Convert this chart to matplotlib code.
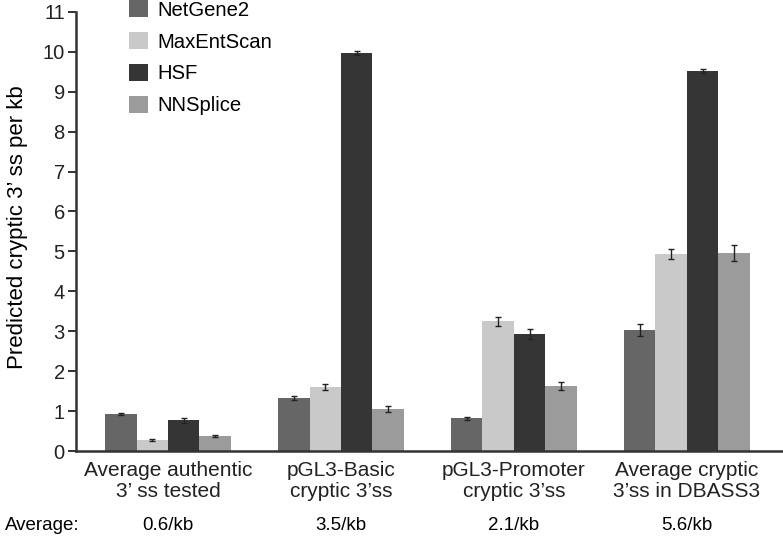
import matplotlib
matplotlib.use("Agg")
import matplotlib.pyplot as plt
import numpy as np
from matplotlib.patches import Patch

plt.rcParams['font.family'] = ['Liberation Sans', 'DejaVu Sans']

categories = ["Average authentic\n3\u2019 ss tested", "pGL3-Basic\ncryptic 3\u2019ss",
              "pGL3-Promoter\ncryptic 3\u2019ss", "Average cryptic\n3\u2019ss in DBASS3"]
averages = ["0.6/kb", "3.5/kb", "2.1/kb", "5.6/kb"]
series = ["NetGene2", "MaxEntScan", "HSF", "NNSplice"]
netgene2 = [0.93, 1.33, 0.82, 3.03]
maxentscan = [0.27, 1.60, 3.25, 4.93]
hsf = [0.77, 9.97, 2.93, 9.53]
nnsplice = [0.38, 1.05, 1.64, 4.97]
netgene2_err = [0.03, 0.05, 0.04, 0.15]
maxentscan_err = [0.03, 0.08, 0.11, 0.12]
hsf_err = [0.06, 0.05, 0.12, 0.05]
nnsplice_err = [0.03, 0.08, 0.10, 0.20]
colors = ["#666666", "#c9c9c9", "#353535", "#9b9b9b"]

values = [netgene2, maxentscan, hsf, nnsplice]
errors = [netgene2_err, maxentscan_err, hsf_err, nnsplice_err]

fig = plt.figure(figsize=(7.83, 5.37), dpi=100)
ax = fig.add_axes([0.097, 0.160, 0.903, 0.818])

x = np.arange(len(categories))
w = 0.182
for i, (vals, errs, c) in enumerate(zip(values, errors, colors)):
    ax.bar(x + (i - 1.5) * w, vals, width=w, color=c, yerr=errs,
           error_kw=dict(ecolor="#222222", elinewidth=1.0, capsize=2.5, capthick=1.0))

ax.set_xlim(-0.532, 3.555)
ax.set_ylim(0, 11)
ax.set_yticks(range(0, 12))
ax.tick_params(axis='y', labelsize=14.5, length=6, width=1.3, pad=2,
               direction='out', colors='#222222')
ax.set_xticks(x)
ax.set_xticklabels(categories, fontsize=15, linespacing=1.15)
ax.tick_params(axis='x', length=0, pad=7, colors='#222222')
for s in ['top', 'right']:
    ax.spines[s].set_visible(False)
for s in ['left', 'bottom']:
    ax.spines[s].set_linewidth(1.8)
    ax.spines[s].set_color('#333333')
ax.set_ylabel("Predicted cryptic 3\u2019 ss per kb", fontsize=16)
ax.yaxis.set_label_coords(-0.068, 0.51)

# Averages row
fig.text(5/783, 1 - 525/537, "Average:", fontsize=13.5, va='center', ha='left')
for xi, a in zip(x, averages):
    xd = ax.transData.transform((xi, 0))[0]
    fig.text(xd / fig.bbox.width, 1 - 525/537, a, fontsize=13.5, va='center', ha='center')

handles = [Patch(facecolor=c, edgecolor='none') for c in colors]
leg = fig.legend(handles, series, loc='upper left', bbox_to_anchor=(129/783, 1.0),
                 bbox_transform=fig.transFigure, borderaxespad=0, borderpad=0,
                 frameon=False, fontsize=14.6, handlelength=0.95, handleheight=0.95,
                 labelspacing=0.6, handletextpad=0.45)

fig.savefig("out.png", dpi=100)
